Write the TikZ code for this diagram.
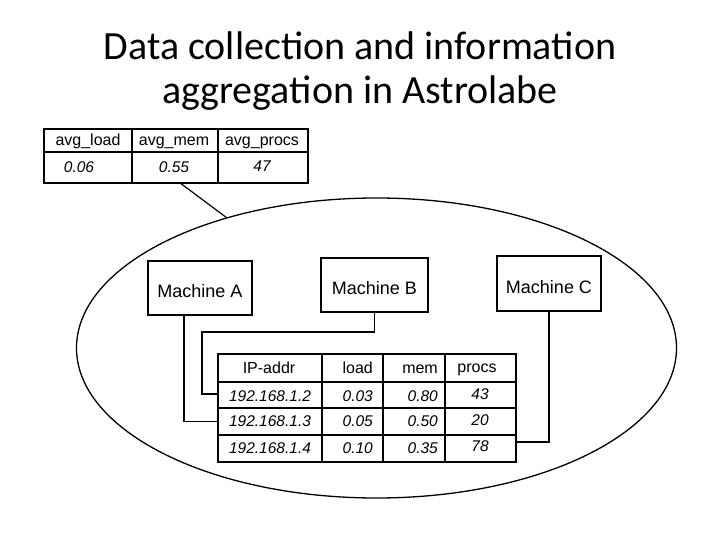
\documentclass[tikz,border=0pt]{standalone}
\usepackage{fontspec}
\setmainfont{Liberation Sans}
\newfontfamily\titlefont{Carlito}
\usetikzlibrary{shapes.geometric,calc}
\tikzset{
  box/.style={draw, line width=1.3pt, rectangle, inner sep=0pt},
  mbox/.style={draw, line width=1.3pt, rectangle, inner sep=0pt, text height=19pt, text depth=0pt, font=\fontsize{18}{21}\selectfont},
  tx/.style={inner sep=0pt, text height=11pt, text depth=3pt, font=\fontsize{16}{18}\selectfont},
  tv/.style={inner sep=0pt, text height=11pt, text depth=3pt, font=\fontsize{15.5}{18}\selectfont\itshape},
  grid/.style={line width=1.1pt},
  conn/.style={line width=1.2pt},
  ttl/.style={inner sep=0pt, anchor=base, font=\titlefont\fontsize{40}{45}\selectfont}
}
\begin{document}
\begin{tikzpicture}[x=1pt,y=-1pt]
\useasboundingbox (0,0) rectangle (720,540);
% title
\node[ttl] (t1) at (360,60) {Data collection and information};
\node[ttl] (t2) at (360,104) {aggregation in Astrolabe};
% ellipse
\node[draw, ellipse, line width=1.3pt, minimum width=600pt, minimum height=300pt, inner sep=0pt] (cluster) at (376.5,348) {};
% top summary table
\node[box, minimum width=264pt, minimum height=54pt] (tt) at (176,156) {};
\draw[grid] (44,152) -- (308,152);
\draw[grid] (132,129) -- (132,183);
\draw[grid] (218,129) -- (218,183);
\node[tx] (ta1) at (88,142) {avg\_load};
\node[tx] (ta2) at (174,142) {avg\_mem};
\node[tx] (ta3) at (262,142) {avg\_procs};
\node[tv] (tb1) at (79,169) {0.06};
\node[tv] (tb2) at (174,169) {0.55};
\node[tv] (tb3) at (262,168) {47};
\draw[conn] ($(tt.south)+(5,0)$) -- (cluster.139);
% machines
\node[mbox, minimum width=104pt, minimum height=54pt] (ma) at (200,288) {Machine A};
\node[mbox, minimum width=107pt, minimum height=54pt] (mb) at (374.5,285) {Machine B};
\node[mbox, minimum width=104pt, minimum height=55pt] (mc) at (549,283.5) {Machine C};
% detail table rows
\node[box, minimum width=298pt, minimum height=28pt] (hdr) at (367,368) {};
\node[box, minimum width=298pt, minimum height=26pt] (r1) at (367,395) {};
\node[box, minimum width=298pt, minimum height=27pt] (r2) at (367,421.5) {};
\node[box, minimum width=298pt, minimum height=27pt] (r3) at (367,448.5) {};
\foreach \cx in {322,383,445} \draw[grid] (\cx,354) -- (\cx,462);
\node[tx] (h1) at (269,369) {IP-addr};
\node[tx, anchor=east] (h2) at (373,369) {load};
\node[tx, anchor=east] (h3) at (438,369) {mem};
\node[tx] (h4) at (477,368) {procs};
\node[tv] (a1) at (270,397) {192.168.1.2};
\node[tv, anchor=east] (a2) at (373,397) {0.03};
\node[tv, anchor=east] (a3) at (438,397) {0.80};
\node[tv] (a4) at (480,395) {43};
\node[tv] (b1) at (270,422) {192.168.1.3};
\node[tv, anchor=east] (b2) at (373,422) {0.05};
\node[tv, anchor=east] (b3) at (438,422) {0.50};
\node[tv] (b4) at (480,421) {20};
\node[tv] (c1) at (270,449) {192.168.1.4};
\node[tv, anchor=east] (c2) at (373,449) {0.10};
\node[tv, anchor=east] (c3) at (438,449) {0.35};
\node[tv] (c4) at (480,447) {78};
% connectors
\coordinate (ax) at (184,0);
\coordinate (bx) at (202,332);
\coordinate (cy) at (0,442);
\draw[conn] (ma.south -| ax) |- (r2.west);
\draw[conn] (mb.south) |- (bx) |- ($(r1.west)+(0,-1)$);
\draw[conn] (mc.south) |- (r3.east |- cy);
\end{tikzpicture}
\end{document}
